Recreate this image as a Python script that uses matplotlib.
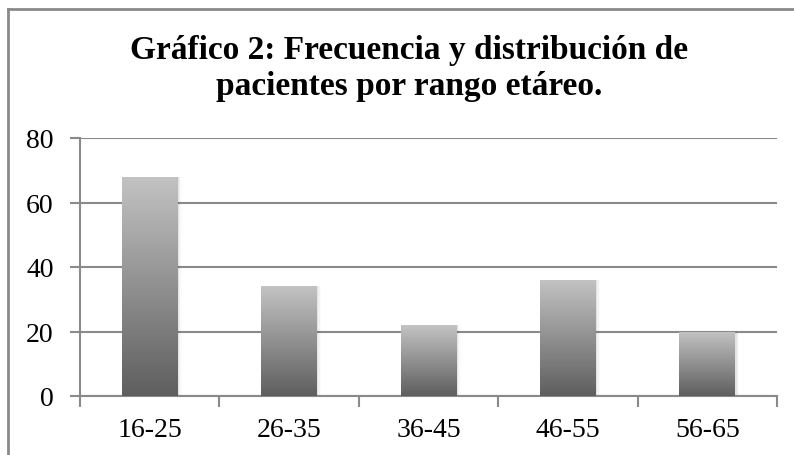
import numpy as np
import matplotlib
matplotlib.use("Agg")
import matplotlib.pyplot as plt
from matplotlib.colors import LinearSegmentedColormap
from matplotlib.lines import Line2D

# age ranges and patient counts
rangos = ["16-25", "26-35", "36-45", "46-55", "56-65"]
pacientes = [68, 34, 22, 36, 20]
titulo = "Gráfico 2: Frecuencia y distribución de\npacientes por rango etáreo."

plt.rcParams['font.family'] = ['Liberation Serif', 'DejaVu Serif']

fig = plt.figure(figsize=(7.94, 4.56), dpi=100)
ax = fig.add_axes([80 / 794, 1 - 397 / 456, 697 / 794, 258 / 456])

x = np.arange(len(rangos))
width = 0.4
gris = LinearSegmentedColormap.from_list("gris", ["#5e5e5e", "#c3c3c3"])
grad = np.linspace(0, 1, 256).reshape(-1, 1)

bars = ax.bar(x, pacientes, width, color="none", zorder=3)
for b in bars:
    x0, y0 = b.get_x(), b.get_y()
    w, h = b.get_width(), b.get_height()
    # soft shadow on the right side
    for i, a in enumerate([0.06, 0.035, 0.015]):
        ax.bar(x0 + w / 2 + 0.01 * (i + 1), h, w, color="black", alpha=a,
               zorder=2, linewidth=0)
    im = ax.imshow(grad, cmap=gris, aspect="auto", origin="lower",
                   extent=(x0, x0 + w, y0, y0 + h), zorder=4)
    im.set_clip_path(b)

ax.set_xlim(-0.5, len(rangos) - 0.5)
ax.set_ylim(0, 80)
ax.set_yticks(range(0, 81, 20))
ax.set_xticks(x)
ax.set_xticklabels(rangos)
ax.set_xticks(np.arange(-0.5, len(rangos)), minor=True)
ax.yaxis.grid(True, color="#8a8a8a", linewidth=1.5, zorder=1)
ax.set_axisbelow(True)

for s in ["top", "right"]:
    ax.spines[s].set_visible(False)
for s in ["left", "bottom"]:
    ax.spines[s].set_color("#8a8a8a")
    ax.spines[s].set_linewidth(1.5)

ax.tick_params(axis="y", length=7, width=1.5, color="#8a8a8a", pad=12,
               labelsize=20)
ax.tick_params(axis="x", which="major", length=0, pad=15, labelsize=20)
ax.tick_params(axis="x", which="minor", length=8, width=1.5, color="#8a8a8a")

fig.text(0.515, 0.85, titulo, ha="center", va="center", fontsize=24,
         fontweight="bold", linespacing=1.2)

# outer chart frame
fig.add_artist(Line2D([8 / 794, 1], [1 - 10 / 456] * 2, color="#8a8a8a",
                      linewidth=2, transform=fig.transFigure))
fig.add_artist(Line2D([8 / 794] * 2, [0, 1 - 10 / 456], color="#8a8a8a",
                      linewidth=2, transform=fig.transFigure))

fig.savefig("out.png", dpi=100)
